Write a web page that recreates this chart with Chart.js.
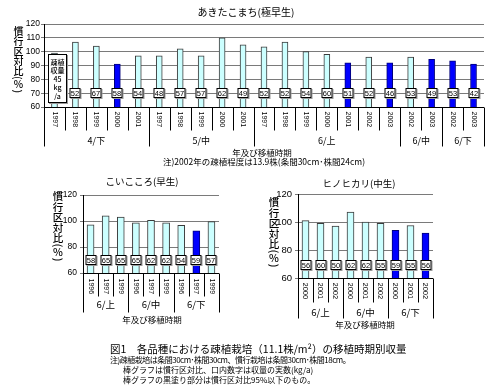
<!DOCTYPE html>
<html>
<head>
<meta charset="utf-8">
<script src="https://cdn.jsdelivr.net/npm/chart.js@4.4.1/dist/chart.umd.min.js"></script>
<style>
  body { margin: 0; width: 500px; height: 385px; background: #fff; position: relative; overflow: hidden;
         font-family: "Noto Sans CJK JP", sans-serif; color: #000; }
  .pane { position: absolute; }
  .t { position: absolute; white-space: nowrap; line-height: 1; }
  .c { transform: translateX(-50%); }
  .vt { position: absolute; writing-mode: vertical-rl; line-height: 1; font-weight: 500; white-space: nowrap; }
  .vt .u { text-orientation: upright; }
</style>
</head>
<body>
<div class="pane" style="left:0;top:0"><canvas id="akita" width="500" height="165"></canvas></div>
<div class="pane" style="left:0;top:165px"><canvas id="koi" width="250" height="165"></canvas></div>
<div class="pane" style="left:250px;top:165px"><canvas id="hino" width="250" height="165"></canvas></div>

<div class="t c" style="left:246px;top:7px;font-size:10px">あきたこまち(極早生)</div>
<div class="vt" style="left:13px;top:26px;font-size:10px">慣行区対比(<span class="u">%</span>)</div>
<div class="t c" style="left:262px;top:147.5px;font-size:8.5px">年及び移植時期</div>
<div class="t" style="left:163px;top:157px;font-size:8.5px">注)2002年の疎植程度は13.9株(条間30cm･株間24cm)</div>

<div class="t c" style="left:142px;top:177px;font-size:9.5px">こいこころ(早生)</div>
<div class="vt" style="left:52px;top:191px;font-size:10.5px">慣行区対比(<span class="u">%</span>)</div>
<div class="t c" style="left:152px;top:314.5px;font-size:8.5px">年及び移植時期</div>

<div class="t c" style="left:359px;top:179px;font-size:9.5px">ヒノヒカリ(中生)</div>
<div class="vt" style="left:268px;top:197px;font-size:10.5px">慣行区対比(<span class="u">%</span>)</div>
<div class="t c" style="left:365px;top:319.5px;font-size:8.5px">年及び移植時期</div>

<div class="t" style="left:110px;top:343.5px;font-size:10.5px">図1　各品種における疎植栽培（11.1株/m²）の移植時期別収量</div>
<div class="t" style="left:110px;top:355.5px;font-size:8px;letter-spacing:-0.5px">注)疎植栽培は条間30cm･株間30cm、慣行栽培は条間30cm･株間18cm。</div>
<div class="t" style="left:123px;top:365.5px;font-size:8px">棒グラフは慣行区対比、口内数字は収量の実数(kg/a)</div>
<div class="t" style="left:123px;top:375.5px;font-size:8px">棒グラフの黒塗り部分は慣行区対比95%以下のもの。</div>

<script>
// あきたこまち(極早生)
const akitaYears = ['1997', '1998', '1999', '2000', '2001', '1997', '1998', '1999', '2000', '2001',
  '1997', '1998', '1999', '2000', '2001', '2002', '2003', '2002', '2003', '2002', '2003'];
const akitaGroups = ['4/下', '5/中', '6/上', '6/中', '6/下'];
const akitaGroupSizes = [5, 5, 7, 2, 2];
const akitaRatio = [99, 107, 104, 91, 97, 97, 102, 97, 110, 105, 103.5, 107, 100, 98, 92, 96, 92, 96, 94.5, 93.3, 91];
const akitaYield = [45, 52, 67, 58, 54, 48, 57, 57, 62, 49, 52, 52, 54, 60, 51, 52, 46, 53, 49, 53, 42];

// こいこころ(早生)
const koiYears = ['1996', '1997', '1999', '1996', '1997', '1999', '1996', '1997', '1999'];
const koiGroups = ['6/上', '6/中', '6/下'];
const koiGroupSizes = [3, 3, 3];
const koiRatio = [97, 104, 103, 98.5, 100.5, 98.5, 96.7, 92.5, 99.5];
const koiYield = [58, 65, 65, 65, 62, 62, 54, 59, 57];

// ヒノヒカリ(中生)
const hinoYears = ['2000', '2001', '2002', '2000', '2001', '2002', '2000', '2001', '2002'];
const hinoGroups = ['6/上', '6/中', '6/下'];
const hinoGroupSizes = [3, 3, 3];
const hinoRatio = [101, 99, 97, 107, 100, 99, 94, 97.5, 92];
const hinoYield = [56, 60, 50, 62, 62, 55, 59, 55, 56];

const yTicks = [60, 70, 80, 90, 100, 110, 120];

// bars at or below 95% of the conventional plot are filled blue
const barFill = v => v <= 95 ? '#0000ff' : '#ccffff';
const barLine = v => v <= 95 ? '#00007a' : '#3a3a3a';

function drawBox(ctx, x, y, w, h) {
  ctx.fillStyle = '#9a9a9a';
  ctx.fillRect(x + 1, y + 1, w, h);
  ctx.fillStyle = '#fff';
  ctx.fillRect(x, y, w, h);
  ctx.strokeStyle = '#000';
  ctx.strokeRect(x + 0.5, y + 0.5, w - 1, h - 1);
}

// draws the yield boxes, the two-level category axis and its labels
function axisPlugin(cfg) {
  return {
    id: 'catAxis',
    afterDatasetsDraw(chart) {
      const { ctx, chartArea: a, scales: { x, y } } = chart;
      const bars = chart.getDatasetMeta(0).data;
      const yl = y.getPixelForValue(cfg.labelAt);
      ctx.save();
      ctx.lineWidth = 1;
      ctx.textAlign = 'center';
      ctx.textBaseline = 'middle';
      bars.forEach((b, i) => {
        const bx = Math.round(b.x);
        if (cfg.note && i === 0) {
          const top = Math.round(y.getPixelForValue(cfg.note.from));
          const bot = Math.round(y.getPixelForValue(cfg.note.to));
          drawBox(ctx, bx - 6, top, 19, bot - top);
          ctx.fillStyle = '#000';
          ctx.font = '500 7px "Noto Sans CJK JP"';
          cfg.note.lines.forEach((s, k) => ctx.fillText(s, bx + 3.5, top + 8 + k * 8.6));
          return;
        }
        drawBox(ctx, bx - cfg.boxW / 2, Math.round(yl - cfg.boxH / 2), cfg.boxW, cfg.boxH);
        ctx.fillStyle = '#000';
        ctx.font = cfg.boxFont;
        ctx.fillText(String(cfg.yields[i]), bx, yl + 0.5);
      });

      const bottom = Math.round(a.bottom) + 0.5;
      const step = x.getPixelForValue(1) - x.getPixelForValue(0);
      ctx.strokeStyle = '#000';
      ctx.beginPath();
      ctx.moveTo(a.left, bottom);
      ctx.lineTo(a.right, bottom);
      const starts = new Set();
      let k = 0;
      cfg.groupSizes.forEach(n => { starts.add(k); k += n; });
      starts.add(k);
      for (let i = 0; i <= cfg.years.length; i++) {
        const bx = Math.round(x.getPixelForValue(i) - step / 2) + 0.5;
        ctx.moveTo(bx, bottom);
        ctx.lineTo(bx, bottom + (starts.has(i) ? cfg.groupLen : cfg.tickLen));
      }
      ctx.stroke();

      ctx.fillStyle = '#000';
      ctx.font = cfg.yearFont;
      cfg.years.forEach((yr, i) => {
        ctx.save();
        ctx.translate(x.getPixelForValue(i), bottom + cfg.yearTop);
        ctx.rotate(Math.PI / 2);
        ctx.textAlign = 'left';
        ctx.fillText(yr, 0, 0);
        ctx.restore();
      });

      ctx.font = cfg.groupFont;
      k = 0;
      cfg.groups.forEach((g, j) => {
        const n = cfg.groupSizes[j];
        const mid = (x.getPixelForValue(k) + x.getPixelForValue(k + n - 1)) / 2;
        ctx.fillText(g, mid, bottom + cfg.groupMid);
        k += n;
      });
      ctx.restore();
    }
  };
}

function makeChart(id, cfg) {
  return new Chart(document.getElementById(id), {
    type: 'bar',
    data: {
      labels: cfg.years,
      datasets: [{
        data: cfg.ratio,
        backgroundColor: cfg.ratio.map(barFill),
        borderColor: cfg.ratio.map(barLine),
        borderWidth: 1,
        barThickness: cfg.barW
      }]
    },
    options: {
      responsive: false,
      animation: false,
      layout: { padding: cfg.pad },
      plugins: { legend: { display: false }, tooltip: { enabled: false } },
      scales: {
        x: { display: false },
        y: {
          min: 60,
          max: 120,
          afterBuildTicks: s => { s.ticks = yTicks.map(v => ({ value: v })); },
          ticks: { padding: cfg.tickPad, color: '#000', font: { size: cfg.tickSize, family: 'Liberation Sans' } },
          grid: { color: '#7a7a7a', lineWidth: 1, tickLength: 3 },
          border: { color: '#000' },
          afterFit: s => { s.width = cfg.axisW; }
        }
      }
    },
    plugins: [axisPlugin(cfg)]
  });
}

makeChart('akita', {
  years: akitaYears, groups: akitaGroups, groupSizes: akitaGroupSizes, ratio: akitaRatio, yields: akitaYield,
  pad: { top: 24, right: 16, bottom: 58, left: 0 }, axisW: 44, tickSize: 8.5, tickPad: 1, barW: 6,
  labelAt: 70, boxW: 11, boxH: 10, boxFont: '7.5px "Liberation Sans"',
  yearFont: '7px "Liberation Sans"', groupFont: '9px "Noto Sans CJK JP"',
  yearTop: 4, tickLen: 23, groupMid: 33, groupLen: 39,
  note: { from: 98, to: 63, lines: ['疎植', '収量', '45', 'kg', '/a'] }
});

makeChart('koi', {
  years: koiYears, groups: koiGroups, groupSizes: koiGroupSizes, ratio: koiRatio, yields: koiYield,
  pad: { top: 30, right: 31, bottom: 57, left: 0 }, axisW: 83, tickSize: 8.5, tickPad: 3, barW: 7,
  labelAt: 70, boxW: 11, boxH: 10, boxFont: '7.5px "Liberation Sans"',
  yearFont: '7px "Liberation Sans"', groupFont: '9.5px "Noto Sans CJK JP"',
  yearTop: 5, tickLen: 23, groupMid: 31, groupLen: 39
});

makeChart('hino', {
  years: hinoYears, groups: hinoGroups, groupSizes: hinoGroupSizes, ratio: hinoRatio, yields: hinoYield,
  pad: { top: 29, right: 67, bottom: 52, left: 0 }, axisW: 48, tickSize: 9.5, tickPad: 3, barW: 7,
  labelAt: 69, boxW: 11, boxH: 10, boxFont: '7.5px "Liberation Sans"',
  yearFont: '7.5px "Liberation Sans"', groupFont: '9.5px "Noto Sans CJK JP"',
  yearTop: 4, tickLen: 24, groupMid: 34, groupLen: 40
});
</script>
</body>
</html>
